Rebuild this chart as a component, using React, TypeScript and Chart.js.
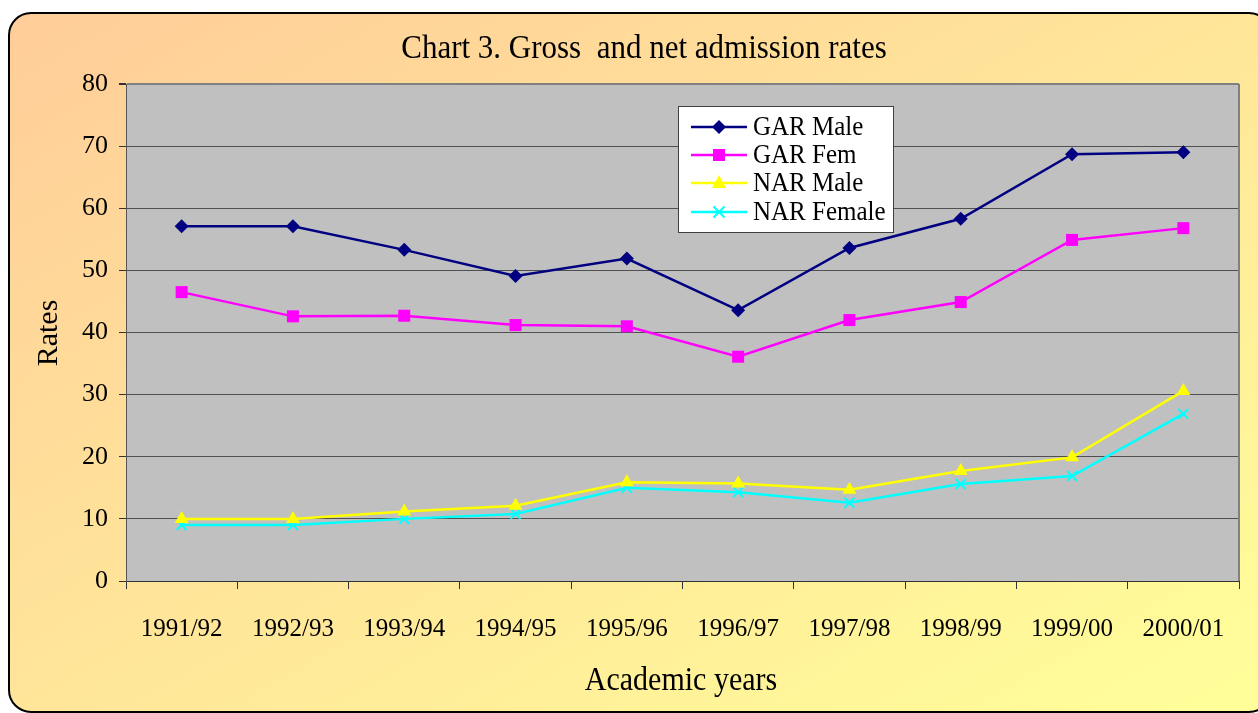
import React, { useEffect, useRef } from "react";
import { Chart, registerables } from "chart.js";

Chart.register(...registerables);

const categories = ["1991/92", "1992/93", "1993/94", "1994/95", "1995/96", "1996/97", "1997/98", "1998/99", "1999/00", "2000/01"];
const garMale = [57.1, 57.1, 53.3, 49.1, 51.9, 43.6, 53.6, 58.3, 68.7, 69.0];
const garFem = [46.5, 42.6, 42.7, 41.2, 41.0, 36.1, 42.0, 44.9, 54.9, 56.8];
const narMale = [10.0, 10.0, 11.2, 12.1, 15.9, 15.7, 14.7, 17.7, 19.9, 30.6];
const narFemale = [9.0, 9.0, 10.0, 10.8, 15.0, 14.3, 12.6, 15.6, 16.9, 26.9];
const seriesNames = ["GAR Male", "GAR Fem", "NAR Male", "NAR Female"];
const seriesColors = ["#000080", "#FF00FF", "#FFFF00", "#00FFFF"];
const yTicks = { min: 0, max: 80, step: 10 };
const titleText = "Chart 3. Gross  and net admission rates";
const xTitle = "Academic years";
const yTitle = "Rates";

const FONT = "'Liberation Serif', 'Times New Roman', serif";

function drawMarker(ctx: CanvasRenderingContext2D, kind: number, x: number, y: number, color: string) {
  ctx.save();
  ctx.fillStyle = color;
  ctx.strokeStyle = color;
  ctx.beginPath();
  if (kind === 0) {
    const r = 7;
    ctx.moveTo(x, y - r);
    ctx.lineTo(x + r, y);
    ctx.lineTo(x, y + r);
    ctx.lineTo(x - r, y);
    ctx.closePath();
    ctx.fill();
  } else if (kind === 1) {
    ctx.rect(x - 6, y - 6, 12, 12);
    ctx.fill();
  } else if (kind === 2) {
    ctx.moveTo(x, y - 8);
    ctx.lineTo(x + 7, y + 5);
    ctx.lineTo(x - 7, y + 5);
    ctx.closePath();
    ctx.fill();
  } else {
    const r = 5.5;
    ctx.lineWidth = 2;
    ctx.moveTo(x - r, y - r);
    ctx.lineTo(x + r, y + r);
    ctx.moveTo(x + r, y - r);
    ctx.lineTo(x - r, y + r);
    ctx.stroke();
  }
  ctx.restore();
}

function stretchedText(ctx: CanvasRenderingContext2D, text: string, x: number, y: number, sy: number) {
  ctx.save();
  ctx.translate(x, y);
  ctx.scale(1, sy);
  ctx.fillText(text, 0, 0);
  ctx.restore();
}

const decorPlugin = {
  id: "decor",
  beforeDraw(chart: any) {
    const { ctx, chartArea: a, width: W, height: H } = chart;
    ctx.save();
    ctx.fillStyle = "#ffffff";
    ctx.fillRect(0, 0, W, H);
    const f = (2 * W * H) / (W * W + H * H);
    const g = ctx.createLinearGradient(0, 0, f * H, f * W);
    g.addColorStop(0, "#FFCC99");
    g.addColorStop(1, "#FFFF99");
    const x = 9, y = 13, w = 1262, h = 699, r = 22;
    ctx.beginPath();
    ctx.moveTo(x + r, y);
    ctx.lineTo(x + w - r, y);
    ctx.arcTo(x + w, y, x + w, y + r, r);
    ctx.lineTo(x + w, y + h - r);
    ctx.arcTo(x + w, y + h, x + w - r, y + h, r);
    ctx.lineTo(x + r, y + h);
    ctx.arcTo(x, y + h, x, y + h - r, r);
    ctx.lineTo(x, y + r);
    ctx.arcTo(x, y, x + r, y, r);
    ctx.closePath();
    ctx.fillStyle = g;
    ctx.fill();
    ctx.lineWidth = 2;
    ctx.strokeStyle = "#000";
    ctx.stroke();
    ctx.fillStyle = "#C0C0C0";
    ctx.fillRect(a.left, a.top, a.right - a.left, a.bottom - a.top);
    ctx.restore();
  },
  afterDraw(chart: any) {
    const { ctx, chartArea: a } = chart;
    ctx.save();
    ctx.strokeStyle = "#808080";
    ctx.lineWidth = 2;
    ctx.beginPath();
    ctx.moveTo(a.right, a.top);
    ctx.lineTo(a.right, a.bottom);
    ctx.stroke();
    ctx.fillStyle = "#000";
    ctx.textAlign = "center";
    ctx.textBaseline = "alphabetic";
    ctx.font = `31px ${FONT}`;
    stretchedText(ctx, titleText, 644, 58, 1.1);
    ctx.font = `30px ${FONT}`;
    stretchedText(ctx, xTitle, 681, 690, 1.1);
    ctx.save();
    ctx.translate(57, 333);
    ctx.rotate(-Math.PI / 2);
    ctx.fillText(yTitle, 0, 0);
    ctx.restore();
    const lx = 678, ly = 106, lw = 215, lh = 126;
    ctx.fillStyle = "#fff";
    ctx.fillRect(lx, ly, lw, lh);
    ctx.strokeStyle = "#404040";
    ctx.lineWidth = 1;
    ctx.strokeRect(lx + 0.5, ly + 0.5, lw, lh);
    const rows = [127, 155, 183, 212];
    ctx.font = `25px ${FONT}`;
    ctx.textAlign = "left";
    ctx.textBaseline = "middle";
    seriesNames.forEach((name, i) => {
      const yy = rows[i];
      ctx.strokeStyle = seriesColors[i];
      ctx.lineWidth = 2.5;
      ctx.beginPath();
      ctx.moveTo(691, yy);
      ctx.lineTo(747, yy);
      ctx.stroke();
      drawMarker(ctx, i, 719, yy, seriesColors[i]);
      ctx.fillStyle = "#000";
      stretchedText(ctx, name, 753, yy + 1, 1.08);
    });
    ctx.restore();
  },
};

export default function App() {
  const ref = useRef<HTMLCanvasElement | null>(null);
  useEffect(() => {
    document.body.style.margin = "0";
    const canvas = ref.current!;
    const styles = ["rectRot", "rect", "triangle", "crossRot"];
    const radii = [7, 8.5, 8, 7];
    const data = [garMale, garFem, narMale, narFemale];
    const chart = new Chart(canvas, {
      type: "line",
      data: {
        labels: categories,
        datasets: data.map((d, i) => ({
          label: seriesNames[i],
          data: d,
          borderColor: seriesColors[i],
          backgroundColor: seriesColors[i],
          borderWidth: 2.5,
          tension: 0,
          pointStyle: styles[i] as any,
          pointRadius: radii[i],
          pointHoverRadius: radii[i],
          pointBorderWidth: i === 3 ? 2 : 0,
          pointBorderColor: seriesColors[i],
          pointBackgroundColor: seriesColors[i],
          clip: false as any,
        })),
      },
      options: {
        animation: false,
        responsive: false,
        events: [],
        layout: { padding: { left: 0, top: 84, right: 19, bottom: 0 } },
        plugins: { legend: { display: false }, title: { display: false }, tooltip: { enabled: false } },
        scales: {
          x: {
            type: "category",
            offset: true,
            afterFit: (s: any) => { s.height = 132; },
            grid: { offset: true, drawOnChartArea: false, drawTicks: true, tickLength: 8, tickColor: "#333", color: "#333" },
            border: { color: "#333", width: 1 },
            ticks: { color: "#000", font: { family: FONT, size: 25 }, padding: 25, maxRotation: 0, autoSkip: false },
          },
          y: {
            min: yTicks.min,
            max: yTicks.max,
            afterFit: (s: any) => { s.width = 126; },
            grid: {
              color: (c: any) => (c.tick && c.tick.value === yTicks.max ? "#808080" : "#505050"),
              lineWidth: (c: any) => (c.tick && c.tick.value === yTicks.max ? 2 : 1),
              tickLength: 7,
              tickColor: "#333",
            },
            border: { color: "#555", width: 1 },
            ticks: { stepSize: yTicks.step, color: "#000", font: { family: FONT, size: 26 }, padding: 11 },
          },
        },
      },
      plugins: [decorPlugin],
    });
    return () => chart.destroy();
  }, []);
  return <canvas ref={ref} width={1258} height={713} style={{ display: "block" }} />;
}
